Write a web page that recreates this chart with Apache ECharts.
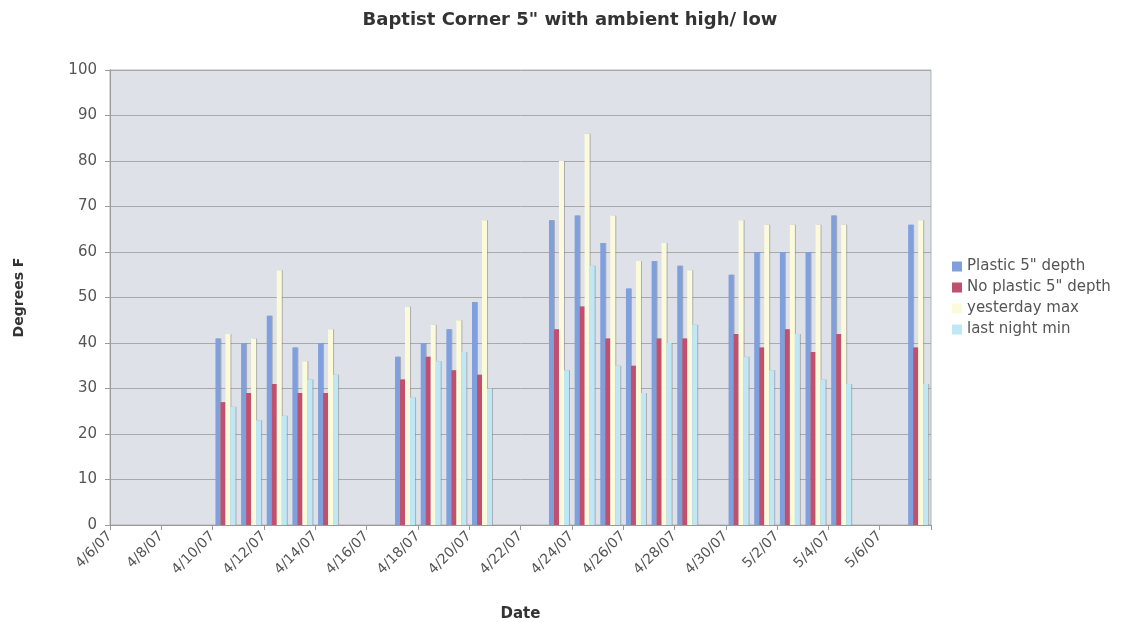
<!DOCTYPE html>
<html>
<head>
<meta charset="utf-8">
<script src="https://cdn.jsdelivr.net/npm/echarts@6/dist/echarts.min.js"></script>
<style>
html,body{margin:0;padding:0;background:#fff;overflow:hidden;}
#chart{width:1140px;height:622px;}
</style>
</head>
<body>
<div id="chart"></div>
<script>
// Categories: one per day, 4/6/07 .. 5/7/07
const dates = ['4/6/07','4/7/07','4/8/07','4/9/07','4/10/07','4/11/07','4/12/07','4/13/07','4/14/07','4/15/07','4/16/07','4/17/07','4/18/07','4/19/07','4/20/07','4/21/07','4/22/07','4/23/07','4/24/07','4/25/07','4/26/07','4/27/07','4/28/07','4/29/07','4/30/07','5/1/07','5/2/07','5/3/07','5/4/07','5/5/07','5/6/07','5/7/07'];
// Tick label slots sit on the day boundaries (one extra, blank, at the right edge)
const tickLabels = dates.concat(['']);

const plastic    = [null,null,null,null,41,40,46,39,40,null,null,37,40,43,49,null,null,67,68,62,52,58,57,null,55,60,60,60,68,null,null,66];
const noPlastic  = [null,null,null,null,27,29,31,29,29,null,null,32,37,34,33,null,null,43,48,41,35,41,41,null,42,39,43,38,42,null,null,39];
const yesterdayMax = [null,null,null,null,42,41,56,36,43,null,null,48,44,45,67,null,null,80,86,68,58,62,56,null,67,66,66,66,66,null,null,67];
const lastNightMin = [null,null,null,null,26,23,24,32,33,null,null,28,36,38,30,null,null,34,57,35,29,40,44,null,37,34,42,32,31,null,null,31];

const yTicks = [0,10,20,30,40,50,60,70,80,90,100];

const FONT = '"DejaVu Sans", Verdana, sans-serif';
const chart = echarts.init(document.getElementById('chart'));

function barSeries(name, data, color) {
  return {
    name: name, type: 'bar', data: data, xAxisIndex: 0,
    barGap: '0%', barCategoryGap: '22%',
    itemStyle: { color: color, shadowColor: 'rgba(110,110,110,0.45)', shadowOffsetX: 1, shadowBlur: 0 },
    emphasis: { disabled: true }
  };
}

chart.setOption({
  animation: false,
  title: {
    text: 'Baptist Corner 5" with ambient high/ low',
    left: 'center', top: 6,
    textStyle: { fontFamily: FONT, fontSize: 18, fontWeight: 'bold', color: '#333' }
  },
  legend: {
    orient: 'vertical', left: 947, top: 254,
    itemWidth: 10, itemHeight: 10, itemGap: 6,
    icon: 'rect',
    textStyle: { fontFamily: FONT, fontSize: 15, color: '#555' },
    data: ['Plastic 5" depth','No plastic 5" depth','yesterday max','last night min']
  },
  grid: {
    left: 110, right: 209, top: 70, bottom: 97,
    containLabel: false, outerBoundsMode: 'none',
    show: true, backgroundColor: '#dfe1e9', borderColor: '#b3b3b3', borderWidth: 1
  },
  xAxis: [
    {
      type: 'category', data: dates, boundaryGap: true,
      name: 'Date', nameLocation: 'middle', nameGap: 82,
      nameTextStyle: { fontFamily: FONT, fontSize: 15, fontWeight: 'bold', color: '#333' },
      axisLine: { lineStyle: { color: '#9a9a9a' } },
      axisTick: { show: true, interval: 1, length: 5, lineStyle: { color: '#9a9a9a' } },
      axisLabel: { show: false },
      splitLine: { show: false }
    },
    {
      type: 'category', data: tickLabels, boundaryGap: false, position: 'bottom',
      axisLine: { show: false }, axisTick: { show: false }, splitLine: { show: false },
      axisLabel: { interval: 1, rotate: 45, margin: 9, fontFamily: FONT, fontSize: 14, color: '#555' }
    }
  ],
  yAxis: {
    type: 'value', min: 0, max: 100, interval: 10,
    name: 'Degrees F', nameLocation: 'middle', nameGap: 84,
    nameTextStyle: { fontFamily: FONT, fontSize: 14, fontWeight: 'bold', color: '#333' },
    axisLine: { show: true, lineStyle: { color: '#9a9a9a' } },
    axisTick: { show: true, length: 5, lineStyle: { color: '#9a9a9a' } },
    axisLabel: {
      margin: 13, fontFamily: FONT, fontSize: 15, color: '#555',
      formatter: function (v) { return yTicks.indexOf(v) >= 0 ? String(v) : ''; }
    },
    splitLine: { show: true, lineStyle: { color: '#a9a9a9', width: 1 } }
  },
  series: [
    barSeries('Plastic 5" depth', plastic, '#7f9fdd'),
    barSeries('No plastic 5" depth', noPlastic, '#c1506f'),
    barSeries('yesterday max', yesterdayMax, '#fbfbdc'),
    barSeries('last night min', lastNightMin, '#bfe7f6')
  ]
});
</script>
</body>
</html>
